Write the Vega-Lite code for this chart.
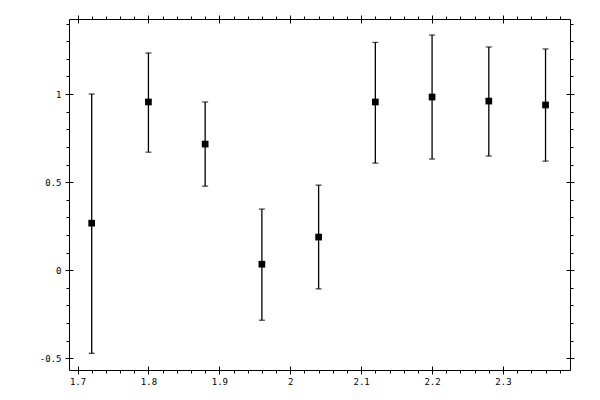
{
  "$schema": "https://vega.github.io/schema/vega-lite/v6.json",
  "description": "Error bar chart with square markers and boxed tick axes.",
  "width": 501,
  "height": 351,
  "autosize": "none",
  "padding": {"left": 69, "top": 19, "right": 30, "bottom": 30},
  "background": "white",
  "data": {
    "values": [
      {"x": 1.72, "y": 0.267, "lo": -0.472, "hi": 1.0},
      {"x": 1.80, "y": 0.955, "lo": 0.670, "hi": 1.233},
      {"x": 1.88, "y": 0.716, "lo": 0.477, "hi": 0.955},
      {"x": 1.96, "y": 0.034, "lo": -0.284, "hi": 0.347},
      {"x": 2.04, "y": 0.188, "lo": -0.106, "hi": 0.483},
      {"x": 2.12, "y": 0.955, "lo": 0.608, "hi": 1.293},
      {"x": 2.20, "y": 0.983, "lo": 0.631, "hi": 1.335},
      {"x": 2.28, "y": 0.960, "lo": 0.648, "hi": 1.267},
      {"x": 2.36, "y": 0.938, "lo": 0.619, "hi": 1.256}
    ]
  },
  "layer": [
    {
      "mark": {"type": "rule", "color": "black", "strokeWidth": 1.3},
      "encoding": {
        "x": {
          "field": "x", "type": "quantitative",
          "scale": {"domain": [1.688, 2.3945], "nice": false, "zero": false},
          "axis": {"orient": "bottom", "title": null, "values": [1.7, 1.8, 1.9, 2, 2.1, 2.2, 2.3],
                   "tickSize": 8, "offset": -4, "labelPadding": 3, "labelExpr": "'' + datum.value"}
        },
        "y": {
          "field": "lo", "type": "quantitative",
          "scale": {"domain": [-0.5665, 1.426], "nice": false, "zero": false},
          "axis": {"orient": "left", "title": null, "values": [-0.5, 0, 0.5, 1],
                   "tickSize": 8, "offset": -4, "labelPadding": 4, "labelExpr": "'' + datum.value"}
        },
        "y2": {"field": "hi"}
      }
    },
    {
      "mark": {"type": "tick", "orient": "horizontal", "color": "black", "size": 6, "thickness": 1.3},
      "encoding": {
        "x": {
          "field": "x", "type": "quantitative",
          "axis": {"orient": "bottom", "title": null, "labels": false, "tickSize": 3,
                   "values": [1.7, 1.72, 1.74, 1.76, 1.78, 1.8, 1.82, 1.84, 1.86, 1.88, 1.9, 1.92, 1.94, 1.96, 1.98, 2, 2.02, 2.04, 2.06, 2.08, 2.1, 2.12, 2.14, 2.16, 2.18, 2.2, 2.22, 2.24, 2.26, 2.28, 2.3, 2.32, 2.34, 2.36, 2.38]}
        },
        "y": {
          "field": "lo", "type": "quantitative",
          "axis": {"orient": "left", "title": null, "labels": false, "tickSize": 3,
                   "values": [-0.5, -0.4, -0.3, -0.2, -0.1, 0, 0.1, 0.2, 0.3, 0.4, 0.5, 0.6, 0.7, 0.8, 0.9, 1, 1.1, 1.2, 1.3, 1.4]}
        }
      }
    },
    {
      "mark": {"type": "tick", "orient": "horizontal", "color": "black", "size": 6, "thickness": 1.3},
      "encoding": {
        "x": {
          "field": "x", "type": "quantitative",
          "axis": {"orient": "top", "title": null, "labels": false, "values": [1.7, 1.8, 1.9, 2, 2.1, 2.2, 2.3],
                   "tickSize": 8, "offset": -4}
        },
        "y": {
          "field": "hi", "type": "quantitative",
          "axis": {"orient": "right", "title": null, "labels": false, "values": [-0.5, 0, 0.5, 1],
                   "tickSize": 8, "offset": -4}
        }
      }
    },
    {
      "mark": {"type": "square", "color": "black", "filled": true, "opacity": 1, "size": 45},
      "encoding": {
        "x": {
          "field": "x", "type": "quantitative",
          "axis": {"orient": "top", "title": null, "labels": false, "tickSize": 3,
                   "values": [1.7, 1.72, 1.74, 1.76, 1.78, 1.8, 1.82, 1.84, 1.86, 1.88, 1.9, 1.92, 1.94, 1.96, 1.98, 2, 2.02, 2.04, 2.06, 2.08, 2.1, 2.12, 2.14, 2.16, 2.18, 2.2, 2.22, 2.24, 2.26, 2.28, 2.3, 2.32, 2.34, 2.36, 2.38]}
        },
        "y": {
          "field": "y", "type": "quantitative",
          "axis": {"orient": "right", "title": null, "labels": false, "tickSize": 3,
                   "values": [-0.5, -0.4, -0.3, -0.2, -0.1, 0, 0.1, 0.2, 0.3, 0.4, 0.5, 0.6, 0.7, 0.8, 0.9, 1, 1.1, 1.2, 1.3, 1.4]}
        }
      }
    }
  ],
  "resolve": {"axis": {"x": "independent", "y": "independent"}},
  "config": {
    "view": {"stroke": "black", "strokeWidth": 1},
    "axis": {
      "grid": false,
      "domain": false,
      "tickColor": "black",
      "tickWidth": 1,
      "labelColor": "black",
      "labelFont": "DejaVu Sans Mono",
      "labelFontSize": 9,
      "labelFlush": false,
      "labelOverlap": false
    }
  }
}
